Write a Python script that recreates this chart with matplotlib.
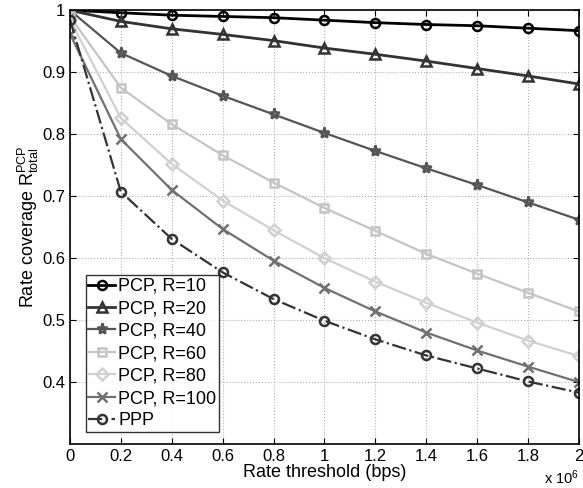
import numpy as np
import matplotlib
matplotlib.use("Agg")
from matplotlib import pyplot as plt
from matplotlib.ticker import FuncFormatter

plt.rcParams["font.family"] = ["Liberation Sans", "DejaVu Sans"]
plt.rcParams["mathtext.fontset"] = "custom"
plt.rcParams["mathtext.rm"] = "Liberation Sans"
plt.rcParams["mathtext.it"] = "Liberation Sans:italic"

# rate threshold (bps)
thresholds = [0, 0.2e6, 0.4e6, 0.6e6, 0.8e6, 1.0e6, 1.2e6, 1.4e6, 1.6e6, 1.8e6, 2.0e6]

pcp_r10 = [1.0, 0.996, 0.992, 0.990, 0.988, 0.984, 0.980, 0.977, 0.975, 0.971, 0.967]
pcp_r20 = [1.0, 0.982, 0.970, 0.961, 0.951, 0.939, 0.929, 0.918, 0.906, 0.894, 0.881]
pcp_r40 = [1.0, 0.931, 0.894, 0.862, 0.832, 0.802, 0.773, 0.745, 0.718, 0.690, 0.662]
pcp_r60 = [0.99, 0.875, 0.816, 0.766, 0.722, 0.681, 0.644, 0.607, 0.575, 0.544, 0.514]
pcp_r80 = [0.985, 0.826, 0.752, 0.693, 0.645, 0.600, 0.562, 0.528, 0.496, 0.467, 0.442]
pcp_r100 = [0.962, 0.792, 0.710, 0.647, 0.596, 0.552, 0.514, 0.480, 0.451, 0.425, 0.400]
ppp = [0.985, 0.707, 0.631, 0.577, 0.534, 0.499, 0.469, 0.443, 0.422, 0.401, 0.383]

labels = ["PCP, R=10", "PCP, R=20", "PCP, R=40", "PCP, R=60",
          "PCP, R=80", "PCP, R=100", "PPP"]

fig = plt.figure(figsize=(5.83, 4.88), dpi=100)
ax = fig.add_axes([0.120, 0.090, 0.873, 0.889])

series = [pcp_r10, pcp_r20, pcp_r40, pcp_r60, pcp_r80, pcp_r100, ppp]
styles = [
    dict(color="#000000", lw=2.0, marker="o", ms=6.5, ls="-"),
    dict(color="#333333", lw=2.0, marker="^", ms=7, ls="-"),
    dict(color="#555555", lw=1.6, marker="*", ms=8, ls="-"),
    dict(color="#c4c4c4", lw=1.6, marker="s", ms=6, ls="-"),
    dict(color="#d0d0d0", lw=1.6, marker="D", ms=6, ls="-"),
    dict(color="#707070", lw=1.6, marker="x", ms=7, ls="-"),
    dict(color="#333333", lw=1.6, marker="o", ms=6.5, ls="-."),
]
for vals, lab, st in zip(series, labels, styles):
    ax.plot(thresholds, vals, label=lab, color=st["color"], lw=st["lw"],
            ls=st["ls"], marker=st["marker"], ms=st["ms"],
            mfc="none", mec=st["color"], mew=1.8)

ax.set_xlim(0, 2e6)
ax.set_ylim(0.3, 1.0)
ax.set_xticks(thresholds)
ax.set_yticks([0.4, 0.5, 0.6, 0.7, 0.8, 0.9, 1.0])
ax.xaxis.set_major_formatter(FuncFormatter(lambda v, p: "%g" % (v / 1e6)))
ax.yaxis.set_major_formatter(FuncFormatter(lambda v, p: "%g" % v))
ax.tick_params(direction="in", top=True, right=True, labelsize=12, length=4)
ax.grid(True, ls=":", color="#b0b0b0", lw=0.8)
for s in ax.spines.values():
    s.set_linewidth(1.2)

ax.set_xlabel("Rate threshold (bps)", fontsize=13, labelpad=0)
ax.set_ylabel(r"Rate coverage R$^{\rm PCP}_{\rm total}$", fontsize=13, labelpad=1)
ax.text(1.0, -0.055, r"x 10$^{6}$", transform=ax.transAxes, ha="right",
        va="top", fontsize=10.5)

leg = ax.legend(loc="lower left", bbox_to_anchor=(0.02, 0.015), fontsize=13,
                frameon=True, fancybox=False, edgecolor="black",
                handlelength=1.5, handletextpad=0.15, borderpad=0.15,
                labelspacing=0.3, borderaxespad=0.3)
leg.get_frame().set_linewidth(1.0)

fig.savefig("out.png", dpi=100)
